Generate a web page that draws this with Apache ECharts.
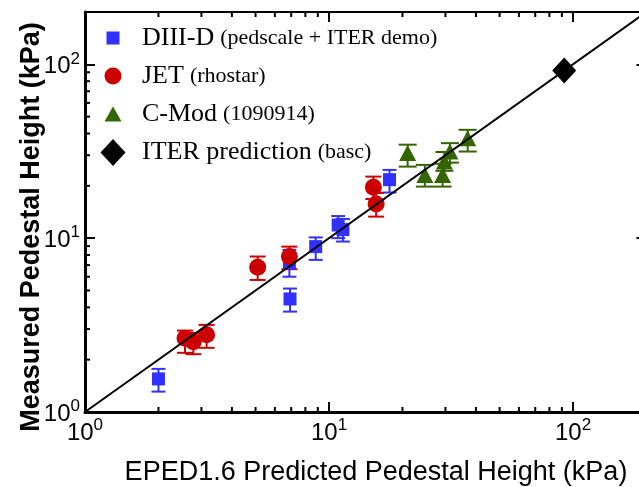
<!DOCTYPE html>
<html>
<head>
<meta charset="utf-8">
<script src="https://cdn.jsdelivr.net/npm/echarts@6/dist/echarts.min.js"></script>
<style>
html, body { margin: 0; padding: 0; background: #fff; }
#main { width: 639px; height: 487px; }
</style>
</head>
<body>
<div id="main"></div>
<script>
// 数据 (kPa)
var diiidX  = [2.0, 6.88, 6.92, 8.82, 10.9, 11.4, 17.7];
var diiidY  = [1.55, 7.18, 4.47, 8.94, 11.9, 11.2, 21.7];
var diiidLo = [1.31, 6.0, 3.78, 7.5, 10.0, 9.56, 18.3];
var diiidHi = [1.77, 8.57, 5.13, 10.1, 13.4, 12.9, 24.7];

var jetX  = [2.57, 2.78, 3.15, 5.10, 6.88, 15.2, 15.6];
var jetY  = [2.66, 2.54, 2.78, 6.81, 7.84, 19.6, 15.7];
var jetLo = [2.19, 2.15, 2.34, 5.75, 6.63, 16.8, 13.3];
var jetHi = [2.94, 2.85, 3.17, 7.84, 8.94, 22.6, 18.2];

var cmodX  = [21.0, 24.7, 29.2, 29.7, 31.3, 37.0];
var cmodY  = [30.9, 23.1, 23.1, 27.6, 31.5, 37.6];
var cmodLo = [25.8, 19.8, 19.8, 24.4, 27.2, 31.5];
var cmodHi = [34.5, 26.4, 26.8, 31.3, 35.2, 42.0];

var iterX = [92];
var iterY = [92];

var axisMin = 1, axisMax = 200;
var unityLine = [1, 200];
var minorTicks = [2, 3, 4, 5, 6, 7, 8, 9, 20, 30, 40, 50, 60, 70, 80, 90];

var seriesNames = ['DIII-D', 'JET', 'C-Mod', 'ITER prediction'];
var seriesNotes = ['(pedscale + ITER demo)', '(rhostar)', '(1090914)', '(basc)'];

var BLUE = '#3030ff', RED = '#cc0000', GREEN = '#336600', BLACK = '#000';
var SANS = '"Liberation Sans", Arial, sans-serif';
var SERIF = '"Liberation Serif", "Times New Roman", serif';

function pts(xs, ys) {
	var out = [];
	for (var i = 0; i < xs.length; i++) out.push([xs[i], ys[i]]);
	return out;
}
function bars(xs, lo, hi) {
	var out = [];
	for (var i = 0; i < xs.length; i++) out.push([xs[i], lo[i], hi[i]]);
	return out;
}

// 误差棒
function errorBar(name, data, color, capHalf) {
	return {
		type: 'custom',
		name: name + ' err',
		silent: true,
		data: data,
		encode: { x: 0, y: [1, 2] },
		z: 2,
		renderItem: function (params, api) {
			var x = api.value(0);
			var lo = api.coord([x, api.value(1)]);
			var hi = api.coord([x, api.value(2)]);
			var st = { stroke: color, lineWidth: 2 };
			return {
				type: 'group',
				children: [
					{ type: 'line', shape: { x1: lo[0], y1: lo[1], x2: hi[0], y2: hi[1] }, style: st },
					{ type: 'line', shape: { x1: lo[0] - capHalf, y1: lo[1], x2: lo[0] + capHalf, y2: lo[1] }, style: st },
					{ type: 'line', shape: { x1: hi[0] - capHalf, y1: hi[1], x2: hi[0] + capHalf, y2: hi[1] }, style: st }
				]
			};
		}
	};
}

// 对数轴的次刻度 (2..9)
var minorTickSeries = {
	type: 'custom',
	silent: true,
	data: minorTicks.map(function (v) { return [v, v]; }),
	encode: { x: 0, y: 1 },
	z: 5,
	renderItem: function (params, api) {
		var v = api.value(0);
		var b = api.coord([v, axisMin]);
		var t = api.coord([v, axisMax]);
		var l = api.coord([axisMin, v]);
		var r = api.coord([axisMax, v]);
		var st = { stroke: BLACK, lineWidth: 2 };
		var len = 5;
		return {
			type: 'group',
			children: [
				{ type: 'line', shape: { x1: b[0], y1: b[1], x2: b[0], y2: b[1] - len }, style: st },
				{ type: 'line', shape: { x1: t[0], y1: t[1], x2: t[0], y2: t[1] + len }, style: st },
				{ type: 'line', shape: { x1: l[0], y1: l[1], x2: l[0] + len, y2: l[1] }, style: st },
				{ type: 'line', shape: { x1: r[0], y1: r[1], x2: r[0] - len, y2: r[1] }, style: st }
			]
		};
	}
};

function powLabel(v) {
	var e = Math.log(v) / Math.LN10;
	if (Math.abs(e - Math.round(e)) > 1e-6) return '';
	return '{n|10}{s|' + Math.round(e) + '}';
}
var labelRich = {
	n: { fontSize: 24, fontFamily: SANS, color: BLACK, lineHeight: 28, verticalAlign: 'bottom' },
	s: { fontSize: 17, fontFamily: SANS, color: BLACK, lineHeight: 28, verticalAlign: 'top' }
};

function logAxis(pos, showLabel, lineWidth) {
	return {
		type: 'log',
		logBase: 10,
		min: axisMin,
		max: axisMax,
		position: pos,
		axisLine: { show: true, onZero: false, lineStyle: { color: BLACK, width: lineWidth } },
		axisTick: { show: true, inside: true, length: 10, lineStyle: { color: BLACK, width: 2 } },
		splitLine: { show: false },
		minorTick: { show: false },
		axisLabel: {
			show: showLabel,
			margin: 5,
			formatter: powLabel,
			rich: labelRich
		}
	};
}

// 图例 (每项一个, 图标大小不同)
function legendItem(name, note, icon, w, h, cy) {
	var rowH = 30;
	return {
		show: true,
		selectedMode: false,
		orient: 'vertical',
		padding: 0,
		left: 113 - w / 2,
		top: cy - Math.max(h, rowH) / 2,
		itemWidth: w,
		itemHeight: h,
		icon: icon,
		data: [name],
		formatter: function () { return '{a|' + name + '}{b|' + note + '}'; },
		textStyle: {
			rich: {
				a: { fontSize: 26, fontFamily: SERIF, color: BLACK, lineHeight: rowH, padding: [0, 0, 0, 24 - w / 2] },
				b: { fontSize: 22, fontFamily: SERIF, color: BLACK, lineHeight: rowH, padding: [0, 0, 0, 6] }
			}
		}
	};
}

var myChart = echarts.init(document.getElementById('main'));
var option = {
	backgroundColor: '#fff',
	animation: false,
	grid: { left: 85, top: 12, width: 561.5, height: 400, containLabel: false, outerBoundsMode: 'none' },
	xAxis: [logAxis('bottom', true, 3), logAxis('top', false, 2)],
	yAxis: [logAxis('left', true, 3), logAxis('right', false, 2)],
	legend: [
		legendItem(seriesNames[0], seriesNotes[0], 'rect', 13, 13, 40),
		legendItem(seriesNames[1], seriesNotes[1], 'circle', 17, 17, 78),
		legendItem(seriesNames[2], seriesNotes[2], 'triangle', 17, 15, 116),
		legendItem(seriesNames[3], seriesNotes[3], 'diamond', 25, 27, 154)
	],
	graphic: [
		{
			type: 'text', x: 32, y: 227, rotation: Math.PI / 2,
			style: { text: 'Measured Pedestal Height (kPa)', font: 'bold 27px ' + SANS, fill: BLACK, align: 'center', verticalAlign: 'middle' }
		},
		{
			type: 'text', x: 376, y: 473,
			style: { text: 'EPED1.6 Predicted Pedestal Height (kPa)', font: '27px ' + SANS, fill: BLACK, align: 'center', verticalAlign: 'middle' }
		}
	],
	series: [
		errorBar('DIII-D', bars(diiidX, diiidLo, diiidHi), BLUE, 7),
		{
			name: 'DIII-D', type: 'scatter', symbol: 'rect', symbolSize: [13, 13],
			itemStyle: { color: BLUE, opacity: 1 }, data: pts(diiidX, diiidY), z: 3
		},
		errorBar('JET', bars(jetX, jetLo, jetHi), RED, 8),
		{
			name: 'JET', type: 'scatter', symbol: 'circle', symbolSize: 17,
			itemStyle: { color: RED, opacity: 1 }, data: pts(jetX, jetY), z: 4
		},
		errorBar('C-Mod', bars(cmodX, cmodLo, cmodHi), GREEN, 9),
		{
			name: 'C-Mod', type: 'scatter', symbol: 'triangle', symbolSize: [17, 16],
			itemStyle: { color: GREEN, opacity: 1 }, data: pts(cmodX, cmodY), z: 6
		},
		{
			name: 'ITER prediction', type: 'scatter', symbol: 'diamond', symbolSize: [24, 26],
			itemStyle: { color: BLACK, opacity: 1 }, data: pts(iterX, iterY), z: 7
		},
		{
			type: 'line', silent: true, showSymbol: false, symbol: 'none',
			data: [[unityLine[0], unityLine[0]], [unityLine[1], unityLine[1]]],
			lineStyle: { color: BLACK, width: 2 }, z: 10
		},
		minorTickSeries
	]
};
myChart.setOption(option);
</script>
</body>
</html>
